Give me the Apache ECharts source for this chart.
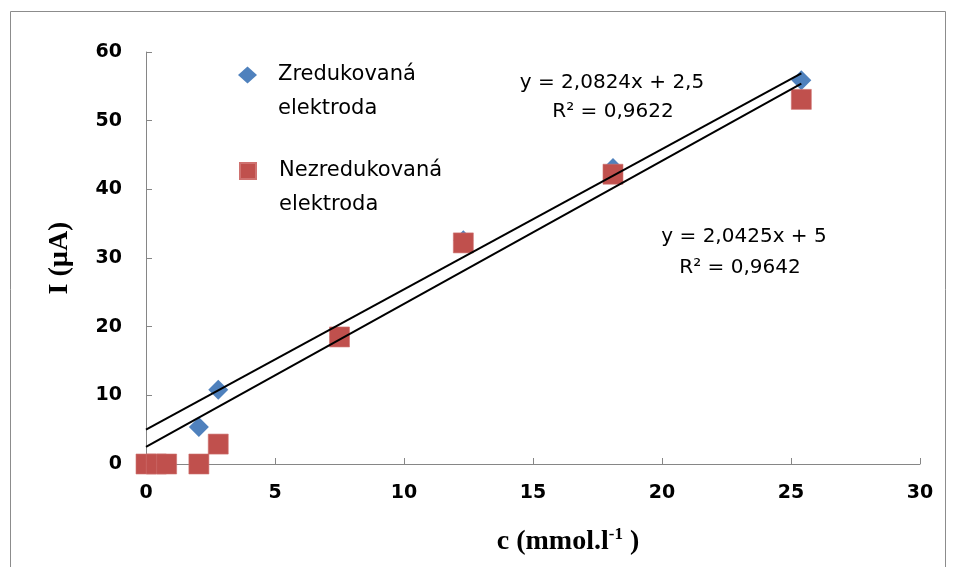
<!DOCTYPE html>
<html>
<head>
<meta charset="utf-8">
<script src="https://cdn.jsdelivr.net/npm/echarts@6/dist/echarts.min.js"></script>
<style>
  html, body { margin: 0; padding: 0; background: #fff; }
  #chart { width: 956px; height: 567px; }
</style>
</head>
<body>
<div id="chart"></div>
<script>
// ---- data ----
const concentration = [0, 0.4, 0.8, 2.05, 2.8, 7.5, 12.3, 18.1, 25.4];
const reducedCurrent = [0, 0, 0, 5.4, 10.8, 18.5, 32.6, 43.1, 55.9];
const unreducedCurrent = [0, 0, 0, 0, 2.9, 18.5, 32.2, 42.2, 53.1];
const seriesNames = ['Zredukovaná\nelektroda', 'Nezredukovaná\nelektroda'];
// trendlines: [slope, intercept] as printed on the chart
const trendA = [2.0824, 2.5];
const trendB = [2.0425, 5];
const trendRange = [0, 25.4];
const eqTextA = ['y = 2,0824x + 2,5', 'R² = 0,9622'];
const eqTextB = ['y = 2,0425x + 5', 'R² = 0,9642'];
const xTicks = { min: 0, max: 30, interval: 5 };
const yTicks = { min: 0, max: 60, interval: 10 };

const pairs = (xs, ys) => xs.map((x, i) => [x, ys[i]]);
const trendPts = t => trendRange.map(x => [x, t[0] * x + t[1]]);

const BLUE = '#4F81BD', RED = '#C0504D', AXIS = '#868686';
const SANS = 'DejaVu Sans';
const SERIF = 'Liberation Serif';

const chart = echarts.init(document.getElementById('chart'), null, { renderer: 'canvas' });

function legendFor(name, icon, top, w, h, left) {
  return {
    data: [{ name: name, icon: icon }],
    orient: 'vertical',
    left: left, top: top,
    padding: 0,
    itemWidth: w, itemHeight: h,
    selectedMode: false,
    formatter: n => '\n' + n,
    textStyle: {
      fontFamily: SANS, fontSize: 21, color: '#000',
      lineHeight: 34, padding: [4, 0, 0, 273 - left - w]
    }
  };
}

chart.setOption({
  animation: false,
  backgroundColor: '#fff',
  grid: { left: 146, right: 36, top: 52, bottom: 103, containLabel: false },
  legend: [
    legendFor(seriesNames[0], 'diamond', 22, 19, 17, 238),
    legendFor(seriesNames[1], 'rect', 118, 16, 16, 239)
  ],
  graphic: [
    { type: 'rect', shape: { x: 10.5, y: 11.5, width: 935, height: 600 },
      style: { fill: 'none', stroke: '#8c8c8c', lineWidth: 1 }, silent: true },
    { type: 'text', x: 612, y: 83, style: { text: eqTextA[0], font: '20px "DejaVu Sans"', fill: '#000', align: 'center', verticalAlign: 'middle' } },
    { type: 'text', x: 613, y: 112, style: { text: eqTextA[1], font: '20px "DejaVu Sans"', fill: '#000', align: 'center', verticalAlign: 'middle' } },
    { type: 'text', x: 744, y: 237, style: { text: eqTextB[0], font: '20px "DejaVu Sans"', fill: '#000', align: 'center', verticalAlign: 'middle' } },
    { type: 'text', x: 740, y: 268, style: { text: eqTextB[1], font: '20px "DejaVu Sans"', fill: '#000', align: 'center', verticalAlign: 'middle' } }
  ],
  xAxis: {
    type: 'value', min: xTicks.min, max: xTicks.max, interval: xTicks.interval,
    splitLine: { show: false },
    axisLine: { show: true, lineStyle: { color: AXIS, width: 1 } },
    axisTick: { show: true, inside: true, length: 6, lineStyle: { color: AXIS } },
    axisLabel: { fontFamily: SANS, fontWeight: 'bold', fontSize: 19, color: '#000', margin: 20 },
    name: '{a|c (mmol.l}{s|-1}{a| )}',
    nameLocation: 'middle', nameGap: 62,
    nameTextStyle: {
      padding: [0, 0, 0, 70],
      rich: {
        a: { fontFamily: SERIF, fontWeight: 'bold', fontSize: 28, lineHeight: 32, color: '#000' },
        s: { fontFamily: SERIF, fontWeight: 'bold', fontSize: 17, lineHeight: 17, verticalAlign: 'top', color: '#000' }
      }
    }
  },
  yAxis: {
    type: 'value', min: yTicks.min, max: yTicks.max, interval: yTicks.interval,
    splitLine: { show: false },
    axisLine: { show: true, lineStyle: { color: AXIS, width: 1 } },
    axisTick: { show: true, inside: true, length: 6, lineStyle: { color: AXIS } },
    axisLabel: { fontFamily: SANS, fontWeight: 'bold', fontSize: 19, color: '#000', margin: 24 },
    name: 'I (µA)',
    nameLocation: 'middle', nameGap: 72,
    nameTextStyle: { fontFamily: SERIF, fontWeight: 'bold', fontSize: 28, color: '#000' }
  },
  series: [
    { name: seriesNames[0], type: 'scatter', symbol: 'diamond', symbolSize: 20,
      itemStyle: { color: BLUE, opacity: 1 }, data: pairs(concentration, reducedCurrent), z: 2 },
    { name: seriesNames[1], type: 'scatter', symbol: 'rect', symbolSize: 20,
      itemStyle: { color: RED, opacity: 1, borderColor: '#cf7270', borderWidth: 0.6 }, data: pairs(concentration, unreducedCurrent), z: 3 },
    { type: 'line', data: trendPts(trendA), showSymbol: false, symbol: 'none', silent: true,
      lineStyle: { color: '#000', width: 2 }, z: 4 },
    { type: 'line', data: trendPts(trendB), showSymbol: false, symbol: 'none', silent: true,
      lineStyle: { color: '#000', width: 2 }, z: 4 }
  ]
});
</script>
</body>
</html>
